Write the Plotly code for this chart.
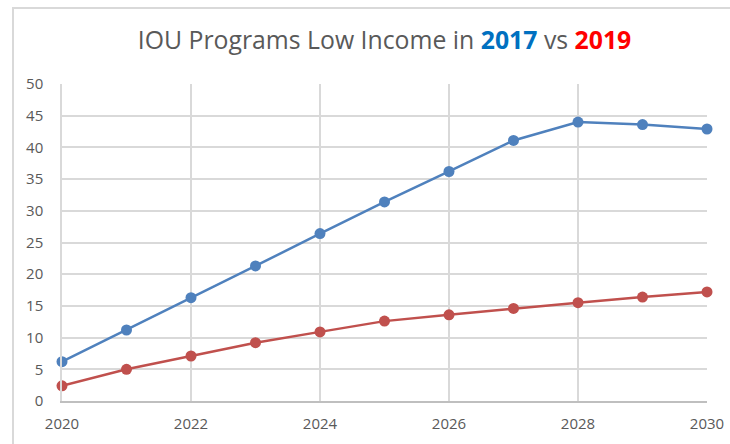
import plotly.graph_objects as go

years = [2020, 2021, 2022, 2023, 2024, 2025, 2026, 2027, 2028, 2029, 2030]
iou_2017 = [6.2, 11.2, 16.3, 21.3, 26.4, 31.4, 36.2, 41.1, 44.0, 43.6, 42.9]
iou_2019 = [2.4, 5.0, 7.1, 9.2, 10.9, 12.6, 13.6, 14.6, 15.5, 16.4, 17.2]
x_ticks = [2020, 2022, 2024, 2026, 2028, 2030]
y_ticks = [0, 5, 10, 15, 20, 25, 30, 35, 40, 45, 50]

FONT = "Open Sans"
GRID = "#d9d9d9"
TXT = "#595959"

fig = go.Figure()
fig.add_trace(go.Scatter(x=years, y=iou_2017, mode="lines+markers", name="2017",
                         line=dict(color="#4F81BD", width=2.5),
                         marker=dict(color="#4F81BD", size=11), cliponaxis=False))
fig.add_trace(go.Scatter(x=years, y=iou_2019, mode="lines+markers", name="2019",
                         line=dict(color="#C0504D", width=2.5),
                         marker=dict(color="#C0504D", size=11), cliponaxis=False))

fig.update_layout(
    width=730, height=444,
    margin=dict(l=62, r=23, t=84, b=43),
    paper_bgcolor="white", plot_bgcolor="white",
    showlegend=False,
    font=dict(family=FONT, color=TXT, size=15),
    title=dict(
        text="IOU Programs Low Income in <b><span style='color:#0070C0'>2017</span></b> vs <b><span style='color:#FF0000'>2019</span></b>",
        x=0.5, xanchor="center", xref="paper", y=0.91, yanchor="middle",
        font=dict(family=FONT, size=24.8, color=TXT)),
    xaxis=dict(range=[2020, 2030], tickvals=x_ticks, showgrid=True, gridcolor=GRID, gridwidth=1.5,
               showline=True, linecolor="#bfbfbf", linewidth=1.5, zeroline=False, automargin=False,
               ticks="", ticklabelstandoff=8, tickfont=dict(size=15, color=TXT)),
    yaxis=dict(range=[0, 50], tickvals=y_ticks, showgrid=True, gridcolor=GRID, gridwidth=1.5,
               showline=True, linecolor=GRID, linewidth=1.5, zeroline=False, automargin=False,
               ticks="", ticklabelstandoff=14, tickfont=dict(size=15, color=TXT)),
    shapes=[dict(type="rect", xref="paper", yref="paper",
                 x0=(13 - 62) / 645, x1=1.2, y0=-0.5, y1=1 + (84 - 8) / 317,
                 line=dict(color=GRID, width=2), layer="below")],
)
fig.write_html("out.html", config={"displayModeBar": False},
               post_script="document.body.style.margin='0';document.body.style.overflow='hidden';")
